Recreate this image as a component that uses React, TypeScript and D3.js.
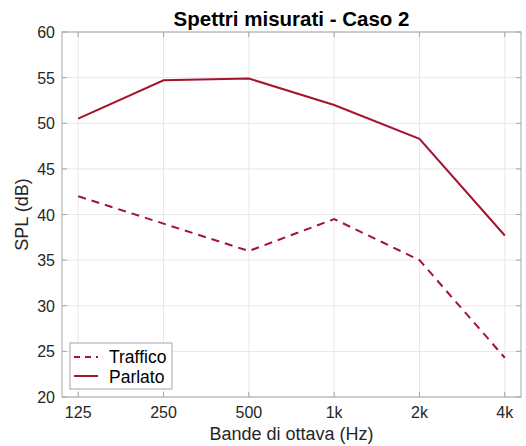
import React from "react";
import * as d3 from "d3";

const bands = ["125", "250", "500", "1k", "2k", "4k"];
const traffico = [42.0, 39.0, 36.0, 39.5, 35.0, 24.3];
const parlato = [50.5, 54.7, 54.9, 52.0, 48.3, 37.7];
const yTicks = [20, 25, 30, 35, 40, 45, 50, 55, 60];

const W = 526;
const H = 446;
const M = { left: 62, right: 5, top: 32, bottom: 49 };
const LINE = "#A2142F";
const FONT = "'Liberation Sans', Arial, Helvetica, sans-serif";

export default function App() {
  const x = d3
    .scalePoint<string>()
    .domain(bands)
    .range([M.left, W - M.right])
    .padding(0.19);
  const y = d3.scaleLinear().domain([20, 60]).range([H - M.bottom, M.top]);

  const line = d3
    .line<number>()
    .x((_, i) => x(bands[i]) as number)
    .y((d) => y(d));

  const x0 = M.left;
  const x1 = W - M.right;
  const y0 = M.top;
  const y1 = H - M.bottom;
  const axisColor = "#a6a6a6";
  const gridColor = "#e8e8e8";

  return (
    <svg
      width={W}
      height={H}
      style={{ position: "absolute", left: 0, top: 0, background: "#fff" }}
      fontFamily={FONT}
    >
      {/* grid */}
      {bands.map((b) => (
        <line key={"gx" + b} x1={x(b)} x2={x(b)} y1={y0} y2={y1} stroke={gridColor} />
      ))}
      {yTicks.map((t) => (
        <line key={"gy" + t} x1={x0} x2={x1} y1={y(t)} y2={y(t)} stroke={gridColor} />
      ))}

      {/* ticks (inward, all sides) */}
      {bands.map((b) => (
        <g key={"tx" + b} stroke={axisColor}>
          <line x1={x(b)} x2={x(b)} y1={y1} y2={y1 - 5} />
          <line x1={x(b)} x2={x(b)} y1={y0} y2={y0 + 5} />
        </g>
      ))}
      {yTicks.map((t) => (
        <g key={"ty" + t} stroke={axisColor}>
          <line x1={x0} x2={x0 + 5} y1={y(t)} y2={y(t)} />
          <line x1={x1} x2={x1 - 5} y1={y(t)} y2={y(t)} />
        </g>
      ))}
      <rect x={x0} y={y0} width={x1 - x0} height={y1 - y0} fill="none" stroke={axisColor} />

      {/* series */}
      <path d={line(traffico) ?? ""} fill="none" stroke={LINE} strokeWidth={2} strokeDasharray="8,6" />
      <path d={line(parlato) ?? ""} fill="none" stroke={LINE} strokeWidth={2} />

      {/* tick labels */}
      {bands.map((b) => (
        <text key={"lx" + b} x={x(b)} y={y1 + 21} textAnchor="middle" fontSize={16} fill="#262626">
          {b}
        </text>
      ))}
      {yTicks.map((t) => (
        <text key={"ly" + t} x={x0 - 7} y={y(t) + 6} textAnchor="end" fontSize={16} fill="#262626">
          {t}
        </text>
      ))}

      {/* titles */}
      <text x={(x0 + x1) / 2} y={26} textAnchor="middle" fontSize={20.5} fontWeight="bold" fill="#000">
        Spettri misurati - Caso 2
      </text>
      <text x={(x0 + x1) / 2} y={440} textAnchor="middle" fontSize={18} fill="#262626">
        Bande di ottava (Hz)
      </text>
      <text
        transform={`translate(28,${(y0 + y1) / 2}) rotate(-90)`}
        textAnchor="middle"
        fontSize={18}
        fill="#262626"
      >
        SPL (dB)
      </text>

      {/* legend */}
      <g transform="translate(70,343)">
        <rect x={0} y={0} width={102} height={46} fill="#fff" stroke={axisColor} />
        <line x1={4} x2={28} y1={14} y2={14} stroke={LINE} strokeWidth={2} strokeDasharray="6,5" />
        <text x={39} y={19.5} fontSize={17.5} fill="#000">Traffico</text>
        <line x1={4} x2={28} y1={33} y2={33} stroke={LINE} strokeWidth={2} />
        <text x={39} y={40} fontSize={17.5} fill="#000">Parlato</text>
      </g>
    </svg>
  );
}
